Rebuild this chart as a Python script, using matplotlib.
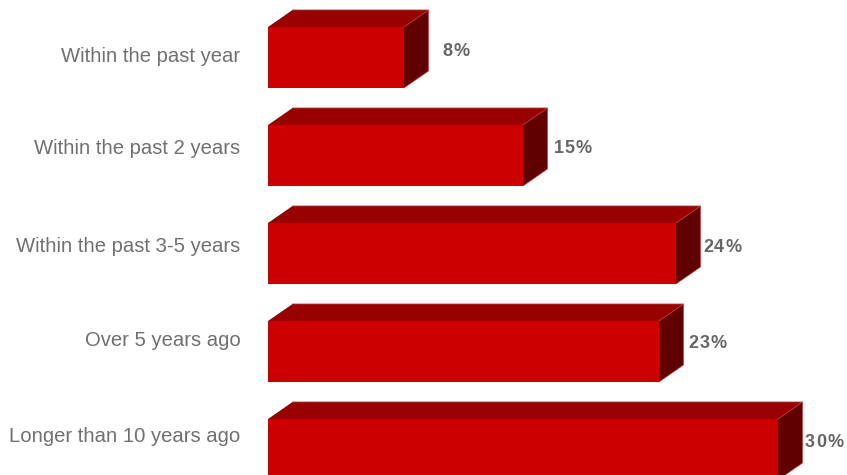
import matplotlib
matplotlib.use('Agg')
from matplotlib import pyplot as plt
from matplotlib.patches import Polygon

categories = ['Within the past year', 'Within the past 2 years', 'Within the past 3-5 years',
              'Over 5 years ago', 'Longer than 10 years ago']
values = [8, 15, 24, 23, 30]
value_labels = ['8%', '15%', '24%', '23%', '30%']

plt.rcParams['font.family'] = ['Liberation Sans', 'DejaVu Sans']

W, H = 847, 475
fig = plt.figure(figsize=(W / 100, H / 100), dpi=100)
ax = fig.add_axes([0, 0, 1, 1])
ax.set_xlim(0, W)
ax.set_ylim(H, 0)
ax.axis('off')

x0 = 268
px_per_pct = 17.0  # 30% -> 778 px
bar_h = 61
dx, dy = 24.5, 17
tops = [27, 125, 223, 321, 419]
label_y = [56.5, 149, 246.5, 341, 436.5]
value_y = [51.5, 148.5, 247.5, 343.5, 442.5]
value_gap = [14, 6, 2.5, 5, 2.5]  # labels dont sit at a fixed distance from the bars
edge = '#b23a3a'


def spaced_text(x, y, s, spacing, **kw):
    # matplotlib has no letter spacing, so place the characters one by one
    renderer = fig.canvas.get_renderer()
    for ch in s:
        t = ax.text(x, y, ch, ha='left', va='center', **kw)
        x += t.get_window_extent(renderer).width + spacing


for cat, val, lab, top, ly, vy, gap in zip(categories, values, value_labels, tops, label_y, value_y, value_gap):
    x1 = x0 + val * px_per_pct
    bottom = top + bar_h
    ax.add_patch(Polygon([(x0, top), (x1, top), (x1, bottom), (x0, bottom)], color='#cc0000', lw=0))
    ax.add_patch(Polygon([(x0, top), (x0 + dx, top - dy), (x1 + dx, top - dy), (x1, top)], color='#990000', lw=0))
    ax.add_patch(Polygon([(x1, top), (x1 + dx, top - dy), (x1 + dx, bottom - dy), (x1, bottom)], color='#600000', lw=0))
    ax.plot([x0 + dx, x1 + dx, x1], [top - dy, top - dy, top], color=edge, lw=0.6)
    ax.plot([x1 + dx, x1 + dx, x1], [top - dy, bottom - dy, bottom], color=edge, lw=0.4)
    ax.text(240.5, ly, cat, ha='right', va='center', fontsize=14.6, color='#707070')
    spaced_text(x1 + dx + gap, vy, lab, 1.1, fontsize=13, color='#666666', fontweight='bold')

fig.savefig('out.png', dpi=100)
